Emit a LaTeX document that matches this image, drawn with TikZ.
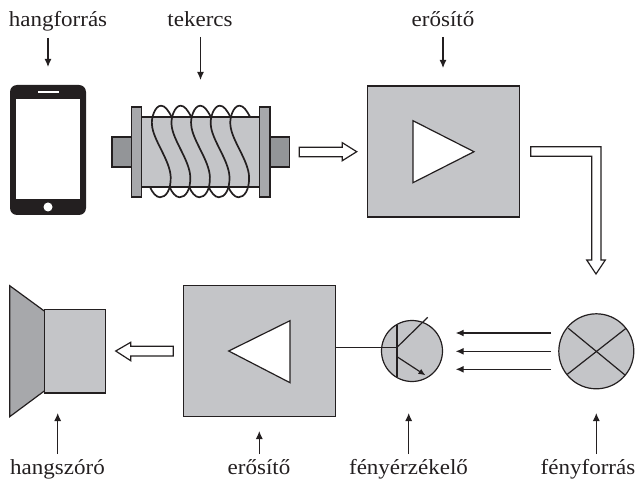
\documentclass[tikz,border=0pt]{standalone}
\usepackage{fontspec}
\setmainfont[FakeStretch=1.07]{Liberation Serif}
\usetikzlibrary{arrows.meta}
\definecolor{lightgr}{HTML}{C4C5C8}
\definecolor{midgr}{HTML}{A7A8AB}
\definecolor{darkgr}{HTML}{939598}
\definecolor{inkblack}{HTML}{231F20}
\tikzset{
  lbl/.style={inner sep=0pt,anchor=base,text=inkblack,font=\fontsize{21.5}{24}\selectfont},
  pointer/.style={-{Latex[length=8pt,width=7pt]},line width=1.15pt,draw=inkblack},
  part/.style={draw=inkblack,line width=1.2pt},
  ampbox/.style={part,fill=lightgr,minimum width=152pt,minimum height=131pt,inner sep=0pt},
  openarrow/.style={part,fill=white,line join=miter},
  wire/.style={draw=inkblack,line width=1.7pt}
}
\begin{document}
\begin{tikzpicture}[x=1pt,y=-1pt]
  \useasboundingbox (0,0) rectangle (635,481);

  % feliratok
  \node[lbl] (hangforras) at (58,27) {hangforrás};
  \node[lbl] (tekercs) at (200,27) {tekercs};
  \node[lbl] (erosito) at (443,27) {erősítő};
  \node[lbl] (hangszoro) at (57.5,474) {hangszóró};
  \node[lbl] (erosito2) at (259,474) {erősítő};
  \node[lbl] (fenyerzekelo) at (408.5,474) {fényérzékelő};
  \node[lbl] (fenyforras) at (588,474) {fényforrás};

  % mutatók
  \coordinate (p1a) at (48,38);      \coordinate (p1b) at (48,67);
  \coordinate (p2a) at (200.5,37);   \coordinate (p2b) at (200.5,80);
  \coordinate (p3a) at (443,37);     \coordinate (p3b) at (443,68);
  \coordinate (p4a) at (57.7,454);   \coordinate (p4b) at (57.7,413);
  \coordinate (p5a) at (259.3,454);  \coordinate (p5b) at (259.3,431);
  \coordinate (p6a) at (408.7,454);  \coordinate (p6b) at (408.7,413);
  \coordinate (p7a) at (596.3,454);  \coordinate (p7b) at (596.3,413);
  \foreach \i in {1,...,7}
    \draw[pointer] (p\i a) -- (p\i b);

  % telefon
  \fill[inkblack,rounded corners=7pt] (10,85) rectangle (86,215);
  \fill[white] (16,99) rectangle (80,199);
  \fill[white] (38,91) rectangle (59,93);
  \node[circle,fill=white,inner sep=0pt,minimum size=9pt] (gomb) at (48,207) {};

  % tekercs
  \draw[part,fill=darkgr] (112,137) rectangle (131.5,167);
  \draw[part,fill=darkgr] (270,137) rectangle (289.5,167);
  \draw[part,fill=lightgr] (141.5,117) rectangle (259.5,187);
  \draw[part,fill=midgr] (131.5,107) rectangle (141.5,197);
  \draw[part,fill=midgr] (259.5,107) rectangle (270,197);
  \foreach \i in {0,...,4}
    \draw[wire,xshift=\i*19.6] (171.7,117) .. controls (168,110) and (165,105.7) .. (161,105.7)
      .. controls (155,105.7) and (151,118) .. (152,125)
      .. controls (153,140) and (170,160) .. (170.7,177)
      .. controls (171,190) and (166,197.3) .. (160,197.3)
      .. controls (156,197.3) and (152,192) .. (150,187);

  % nyilak
  \draw[openarrow] (299.3,147.3) -- (342.3,147.3) -- (342.3,142.7) -- (356.7,151.7)
    -- (342.3,160.7) -- (342.3,156.7) -- (299.3,156.7) -- cycle;
  \draw[openarrow] (530.7,146.7) -- (601,146.7) -- (601,260) -- (605.3,260) -- (596,274)
    -- (586.7,260) -- (591.7,260) -- (591.7,156.3) -- (530.7,156.3) -- cycle;
  \draw[openarrow] (173.3,346.3) -- (130.7,346.3) -- (130.7,342.3) -- (115.7,351)
    -- (130.7,360.7) -- (130.7,356) -- (173.3,356) -- cycle;

  % erősítők
  \node[ampbox] (amp1) at (443.5,151.5) {};
  \draw[part,fill=white] (413,120.7) -- (474,151.7) -- (413,182.7) -- cycle;
  \node[ampbox] (amp2) at (259.3,351.2) {};
  \draw[part,fill=white] (290,320.7) -- (228.7,351) -- (290,382.7) -- cycle;

  % hangszóró
  \draw[part,fill=midgr] (9.7,285.7) -- (44.7,311.3) -- (44.7,390.7) -- (9.7,416.7) -- cycle;
  \draw[part,fill=lightgr] (44.7,309.7) rectangle (105.3,393);

  % fényérzékelő
  \node[circle,part,fill=lightgr,inner sep=0pt,minimum size=61pt] (sensor) at (412,351) {};
  \coordinate (tbase) at (397,347.3);
  \draw[part] (amp2.east |- tbase) -- (tbase);
  \draw[part] (397,325) -- (397,376.7);
  \draw[part] (tbase) -- (427.7,317.3);
  \draw[part,-{Latex[length=7pt,width=6pt]}] (397,356.7) -- (425.5,375.3);

  % fényforrás
  \node[circle,part,fill=lightgr,inner sep=0pt,minimum size=75pt] (lamp) at (596.3,351.3) {};
  \draw[part] (568.3,328.3) -- (625,375);
  \draw[part] (626,328.3) -- (567.3,374.3);
  \coordinate (ray1a) at (551,333);    \coordinate (ray1b) at (455.7,333);
  \coordinate (ray2a) at (551,351.3);  \coordinate (ray2b) at (455.7,351.3);
  \coordinate (ray3a) at (551,369.3);  \coordinate (ray3b) at (455.7,369.3);
  \foreach \i in {1,2,3}
    \draw[pointer] (ray\i a) -- (ray\i b);
\end{tikzpicture}
\end{document}
